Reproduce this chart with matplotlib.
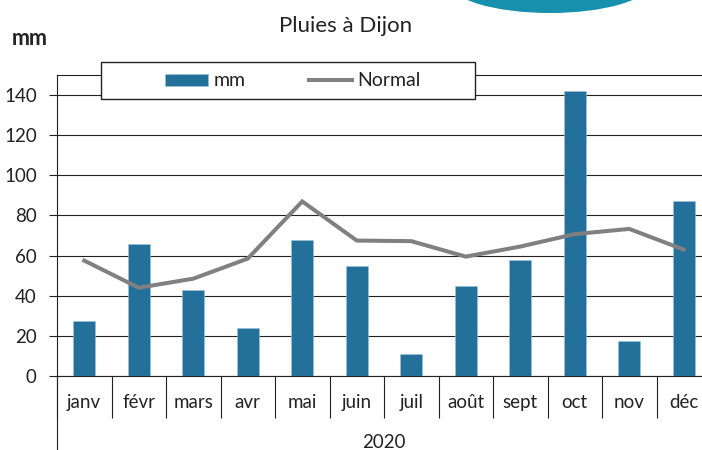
import matplotlib
matplotlib.use("Agg")
import matplotlib.pyplot as plt
from matplotlib.patches import Rectangle, Ellipse
from matplotlib.lines import Line2D
import numpy as np

months = ['janv', 'févr', 'mars', 'avr', 'mai', 'juin',
          'juil', 'août', 'sept', 'oct', 'nov', 'déc']
rain_mm = [27.5, 66, 43, 24, 68, 55, 11, 45, 58, 142, 17.5, 87]
normal_mm = [57.5, 44, 48.5, 58.5, 87, 67.5, 67.2, 59.5, 64.5, 70.7, 73.3, 63]
year_label = '2020'
yticks = [0, 20, 40, 60, 80, 100, 120, 140]

BAR = '#23719b'
GREY = '#808080'
INK = '#222222'

plt.rcParams['font.family'] = ['Lato', 'DejaVu Sans']
plt.rcParams['text.color'] = INK

W, H = 702, 450
fig = plt.figure(figsize=(W / 100, H / 100), dpi=100)
# plot area: x 57 -> 711 px (runs past the right edge), y 75 -> 376 px
ax = fig.add_axes([57 / W, (H - 376) / H, 654 / W, 301 / H])

x = np.arange(len(months))
bars = ax.bar(x, rain_mm, width=0.41, color=BAR, edgecolor='#9cc3d8',
              linewidth=0.4, zorder=3, label='mm')
line, = ax.plot(x, normal_mm, color=GREY, lw=2.9, solid_joinstyle='miter',
                zorder=4, label='Normal')

ax.set_xlim(-0.5, len(months) - 0.5)
ax.set_ylim(0, 150)
ax.set_yticks(yticks)
ax.yaxis.grid(True, color=INK, lw=0.8)
ax.set_axisbelow(True)
ax.tick_params(axis='y', direction='out', length=6, width=0.8, pad=8.5,
               labelsize=13.5, colors=INK)

ax.set_xticks(x)
ax.set_xticklabels(months)
ax.set_xticks(np.arange(len(months) + 1) - 0.5, minor=True)
ax.tick_params(axis='x', which='major', length=0, pad=13, labelsize=13.5,
               colors=INK)
ax.tick_params(axis='x', which='minor', length=30, width=0.8, color=INK)

for s in ax.spines.values():
    s.set_color(INK)
    s.set_linewidth(0.8)

# left axis line goes down through the year row
ax.add_line(Line2D([0, 0], [-0.26, 0], transform=ax.transAxes, color=INK,
                   lw=0.8, clip_on=False))
ax.text(0.5, -0.222, year_label, transform=ax.transAxes, ha='center',
        va='center', fontsize=13.5)

# legend box sitting over the top of the plot
fig.patches.append(Rectangle((100.5 / W, 1 - 99 / H), 374.5 / W, 37 / H,
                             transform=fig.transFigure, facecolor='white',
                             edgecolor=INK, lw=1, zorder=1))
fig.legend([bars, line], ['mm', 'Normal'], ncol=2, frameon=False,
           loc='center', bbox_to_anchor=(293 / W, 1 - 81 / H),
           handlelength=2.2, handleheight=0.57, handletextpad=0.26,
           columnspacing=3.3, fontsize=14)

fig.text(345.5 / W, 1 - 32 / H, 'Pluies à Dijon', ha='center',
         va='baseline', fontsize=16)
fig.text(12 / W, 1 - 45 / H, 'mm', ha='left', va='baseline', fontsize=15.5,
         fontweight='bold')

# bit of the logo cut off at the top
fig.patches.append(Ellipse((550 / W, 1 + 17 / H), 200 / W, 60 / H,
                           transform=fig.transFigure, facecolor='#1690ad',
                           edgecolor='none', zorder=1))

fig.savefig('out.png', dpi=100)
